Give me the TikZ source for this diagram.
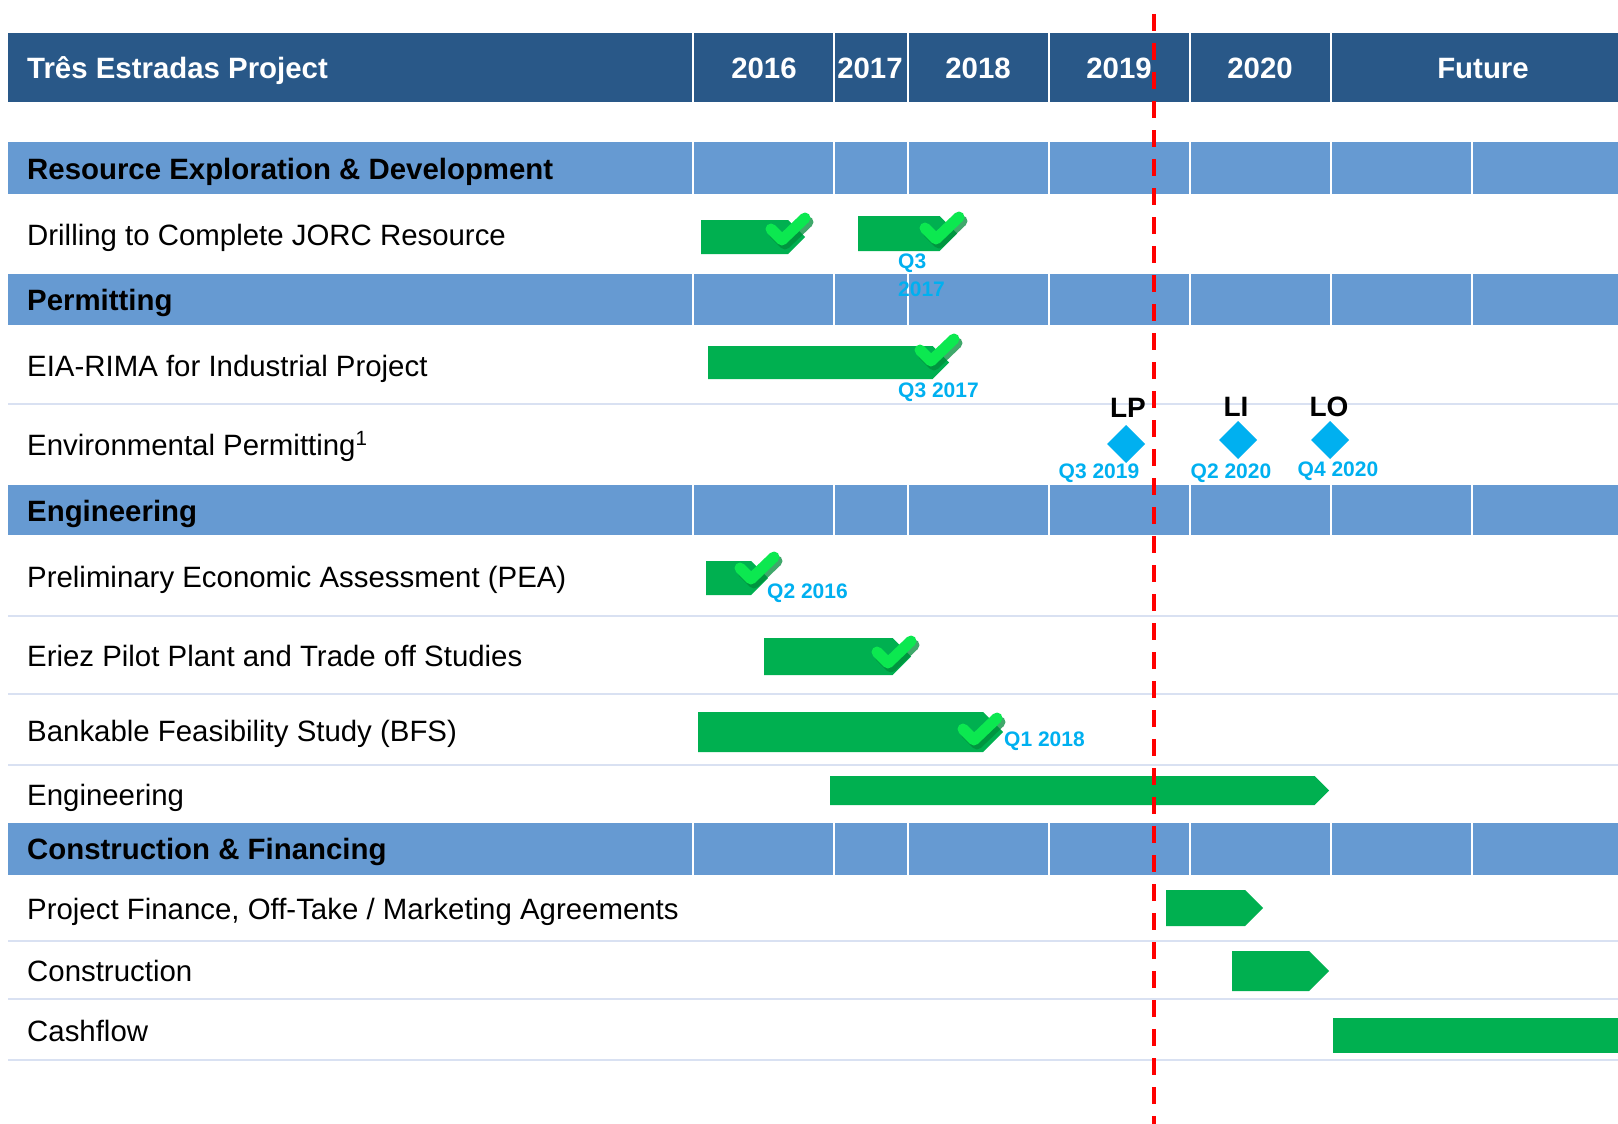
\documentclass[tikz,border=0pt]{standalone}
\usepackage{fontspec}
\setmainfont{Liberation Sans}
\definecolor{hdrblue}{RGB}{41,88,136}
\definecolor{secblue}{RGB}{102,154,210}
\definecolor{rowline}{RGB}{217,225,242}
\definecolor{bargreen}{RGB}{0,176,80}
\definecolor{chkgreen}{RGB}{12,232,80}
\definecolor{chkshade}{RGB}{0,140,58}
\definecolor{qcyan}{RGB}{0,176,240}
\definecolor{todayred}{RGB}{255,0,0}
\tikzset{
  hdrtext/.style={font=\fontsize{29.4}{31}\selectfont\bfseries, text=white, inner sep=0pt, anchor=base},
  sectext/.style={font=\fontsize{29.4}{31}\selectfont\bfseries, text=black, inner sep=0pt, anchor=base west},
  tasktext/.style={font=\fontsize{29.4}{31}\selectfont, text=black, inner sep=0pt, anchor=base west},
  qlabel/.style={font=\fontsize{21}{23}\selectfont\bfseries, text=qcyan, inner sep=0pt},
  mlabel/.style={font=\fontsize{28}{30}\selectfont\bfseries, text=black, inner sep=0pt},
  colsep/.style={draw=white, line width=2pt},
  rowsep/.style={draw=rowline, line width=2pt},
  barfill/.style={fill=bargreen},
  milestone/.style={fill=qcyan},
  chkline/.style={draw=chkgreen, line width=11pt, line cap=round, line join=round},
  chkshadow/.style={draw=chkshade, line width=11pt, line cap=round, line join=round, opacity=0.75},
  todayline/.style={draw=todayred, line width=4pt, dash pattern=on 17pt off 12pt}
}
\newcommand\gbar[4]{%
  \fill[barfill] (#1,#2) -- ({#4-(#3-#2)/2},#2) -- (#4,{(#2+#3)/2}) -- ({#4-(#3-#2)/2},#3) -- (#1,#3) -- cycle;}
\newcommand\mycheck[2]{%
  \begin{scope}[shift={(#1,#2)}]
    \draw[chkshadow] (-8,-14) -- (3,-3) -- (26,-25);
    \draw[chkline] (-11,-18) -- (0,-7) -- (23,-29);
  \end{scope}}
\newcommand\mydiamond[2]{%
  \fill[milestone] (#1-19,#2) -- (#1,#2-19) -- (#1+19,#2) -- (#1,#2+19) -- cycle;}
\begin{document}
\begin{tikzpicture}[x=1pt,y=-1pt]
\useasboundingbox (0,0) rectangle (1618,1124);
\fill[white] (0,0) rectangle (1618,1124);
% header
\fill[hdrblue] (8,33) rectangle (1618,102);
\foreach \cx in {693,834,908,1049,1190,1331}{\draw[colsep] (\cx,33) -- (\cx,102);}
\node[hdrtext, anchor=base west] (title) at (27,79) {Três Estradas Project};
\node[hdrtext] (y2016) at (764,79) {2016};
\node[hdrtext] (y2017) at (870,79) {2017};
\node[hdrtext] (y2018) at (978,79) {2018};
\node[hdrtext] (y2019) at (1119,79) {2019};
\node[hdrtext] (y2020) at (1260,79) {2020};
\node[hdrtext] (yfut) at (1483,79) {Future};
% section rows
\foreach \ya/\yb in {142/194, 274/325, 485/535, 823/875}{
  \fill[secblue] (8,\ya) rectangle (1618,\yb);
  \foreach \cx in {693,834,908,1049,1190,1331,1472}{\draw[colsep] (\cx,\ya) -- (\cx,\yb);}
}
% row separators
\foreach \yy in {404,616,694,765,941,999,1060}{\draw[rowsep] (8,\yy) -- (1618,\yy);}
% section texts
\node[sectext] (s1) at (27,179) {Resource Exploration \& Development};
\node[sectext] (s2) at (27,310) {Permitting};
\node[sectext] (s3) at (27,521) {Engineering};
\node[sectext] (s4) at (27,859) {Construction \& Financing};
% task texts
\node[tasktext] (t1) at (27,245) {Drilling to Complete JORC Resource};
\node[tasktext] (t2) at (27,376) {EIA-RIMA for Industrial Project};
\node[tasktext] (t3) at (27,455) {Environmental Permitting\textsuperscript{1}};
\node[tasktext] (t4) at (27,587) {Preliminary Economic Assessment (PEA)};
\node[tasktext] (t5) at (27,666) {Eriez Pilot Plant and Trade off Studies};
\node[tasktext] (t6) at (27,741) {Bankable Feasibility Study (BFS)};
\node[tasktext] (t7) at (27,805) {Engineering};
\node[tasktext] (t8) at (27,919) {Project Finance, Off-Take / Marketing Agreements};
\node[tasktext] (t9) at (27,981) {Construction};
\node[tasktext] (t10) at (27,1041) {Cashflow};
% bars
\gbar{701}{220}{254}{805}
\gbar{858}{216}{251}{957}
\gbar{708}{346}{379}{949}
\gbar{706}{561}{595}{768}
\gbar{764}{638}{675}{911}
\gbar{698}{712}{752}{1003}
\gbar{830}{776}{805}{1329}
\gbar{1166}{890}{926}{1263}
\gbar{1232}{951}{991}{1329}
\fill[barfill] (1333,1018) rectangle (1618,1053);
% checks
\mycheck{782}{247}
\mycheck{936}{246}
\mycheck{931}{368}
\mycheck{751}{586}
\mycheck{888}{670}
\mycheck{974}{747}
% date labels
\node[qlabel, anchor=west] (q1a) at (898,263) {Q3};
\node[qlabel, anchor=west] (q1b) at (898,289) {2017};
\node[qlabel, anchor=west] (q2) at (898,392) {Q3 2017};
\node[qlabel, anchor=west] (q3) at (767,593) {Q2 2016};
\node[qlabel, anchor=west] (q4) at (1004,741) {Q1 2018};
% milestones
\mydiamond{1126}{444}
\mydiamond{1238}{440}
\mydiamond{1330}{440}
\node[mlabel] (lp) at (1128,408) {LP};
\node[mlabel] (li) at (1236,407) {LI};
\node[mlabel] (lo) at (1329,407) {LO};
\node[qlabel] (m1) at (1099,473) {Q3 2019};
\node[qlabel] (m2) at (1231,473) {Q2 2020};
\node[qlabel] (m3) at (1338,471) {Q4 2020};
% today line
\coordinate (today top) at (1154,14);
\coordinate (today bot) at (1154,1124);
\draw[todayline] (today top) -- (today bot);
\end{tikzpicture}
\end{document}
